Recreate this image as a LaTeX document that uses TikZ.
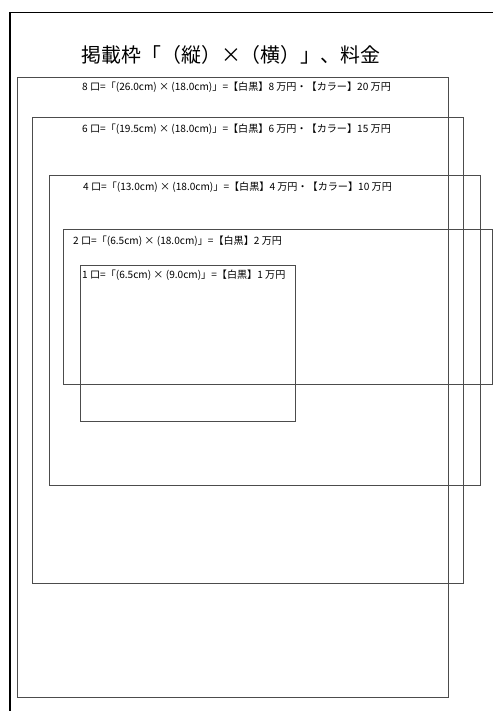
\documentclass[tikz,border=0pt]{standalone}
\usepackage{fontspec}
\setmainfont{Noto Sans CJK JP}
\usetikzlibrary{positioning}

\begin{document}
\begin{tikzpicture}[x=1pt, y=-1pt,
  waku/.style={draw=black!70, line width=0.9pt},
  koumoku/.style={anchor=west, inner sep=0pt, font=\fontsize{10.1}{12}\selectfont},
  midashi/.style={inner sep=0pt, font=\fontsize{19.9}{22}\selectfont}]
\fill[white] (0,0) rectangle (493,711);
\useasboundingbox (0,0) rectangle (493,711);

% Outer frame
\draw[line width=1.8pt] (10,711) -- (10,12.5) -- (493,12.5);

% Title
\node[midashi] (title) at (231,55) {掲載枠「（縦）×（横）」、料金};

% Frames
\draw[waku] (17,77) rectangle (448,697);
\draw[waku] (32,117) rectangle (463,583);
\draw[waku] (49,175) rectangle (480,485);
\draw[waku] (63,229) rectangle (492,384);
\draw[waku] (80,265) rectangle (295,421);

% Labels
\node[koumoku] (k8) at (82,87) {8 口=「(26.0cm) × (18.0cm)」=【白黒】8 万円・【カラー】20 万円};
\node[koumoku] (k6) at (82,129) {6 口=「(19.5cm) × (18.0cm)」=【白黒】6 万円・【カラー】15 万円};
\node[koumoku] (k4) at (83,187) {4 口=「(13.0cm) × (18.0cm)」=【白黒】4 万円・【カラー】10 万円};
\node[koumoku] (k2) at (73,241) {2 口=「(6.5cm) × (18.0cm)」=【白黒】2 万円};
\node[koumoku] (k1) at (82,275) {1 口=「(6.5cm) × (9.0cm)」=【白黒】1 万円};

\end{tikzpicture}
\end{document}
